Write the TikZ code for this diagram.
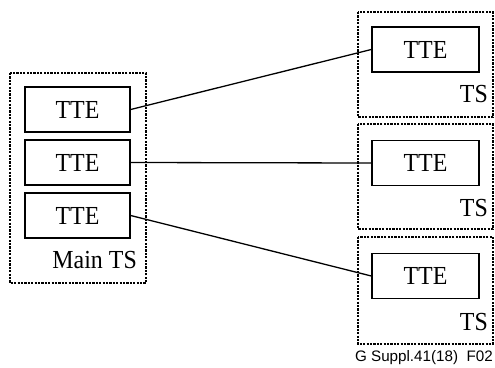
\documentclass[tikz,border=0pt]{standalone}
\usepackage{fontspec}
\setmainfont{Liberation Serif}[FakeStretch=0.92]
\newfontfamily\captionfont{Liberation Sans}
\begin{document}
\begin{tikzpicture}[x=1pt,y=-1pt,
  tte/.style={draw, line width=1.4pt, rectangle, minimum width=105pt, minimum height=45pt,
    inner sep=0pt, font=\fontsize{26}{30}\selectfont},
  tsframe/.style={draw, line width=1.25pt, dash pattern=on 2.2pt off 1.2pt},
  tslabel/.style={anchor=base east, inner sep=0pt, font=\fontsize{26}{30}\selectfont},
  link/.style={line width=1.3pt}]
\useasboundingbox (0,0) rectangle (495,367);

% main time source and its three exchange entities
\draw[tsframe] (10,73) rectangle (146,283);
\node[tte] (m1) at (77.5,109.5) {TTE};
\node[tte] (m2) at (77.5,162.5) {TTE};
\node[tte] (m3) at (77.5,215.5) {TTE};
\node[tslabel] (mainlbl) at (137,268) {Main TS};

% remote time sources
\draw[tsframe] (358,12) rectangle (493,117);
\draw[tsframe] (358,124) rectangle (493,229);
\draw[tsframe] (358,237) rectangle (493,344);
\node[tte, minimum width=107pt] (r1) at (425.5,49.5) {TTE};
\node[tte, minimum width=107pt] (r2) at (425.5,163) {TTE};
\node[tte, minimum width=107pt] (r3) at (425.5,276) {TTE};
\node[tslabel] (ts1) at (488,102) {TS};
\node[tslabel] (ts2) at (488,216) {TS};
\node[tslabel] (ts3) at (488,330) {TS};

% links
\draw[link] (m1.east) -- (r1.west);
\draw[link] (m2.east) -- (r2.west);
\draw[link] (m3.east) -- (r3.west);

\node[anchor=base east, inner sep=0pt, font=\captionfont\fontsize{15.2}{18}\selectfont] (cap) at (493,361) {G Suppl.41(18)\ \ F02};
\end{tikzpicture}
\end{document}
